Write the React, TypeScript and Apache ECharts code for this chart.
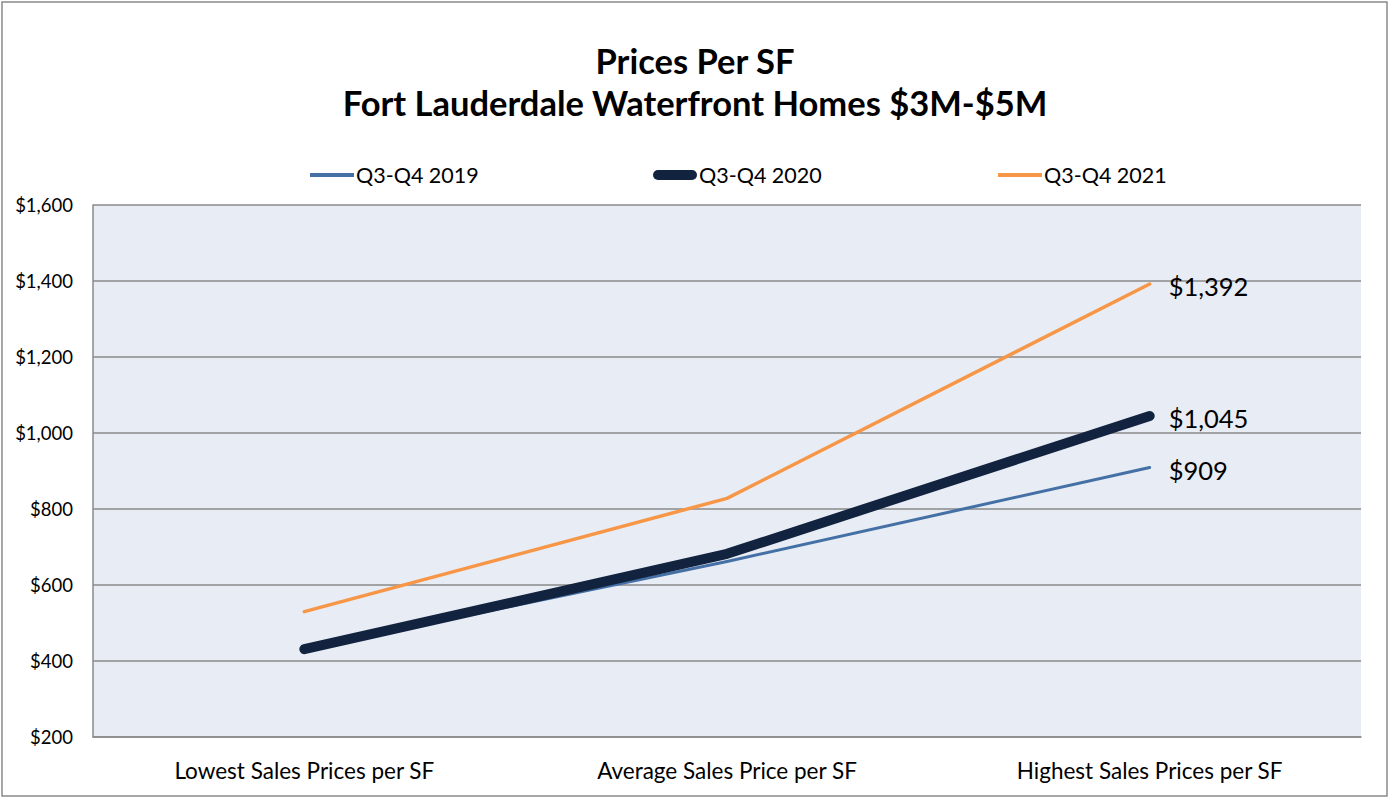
import React, { useEffect, useRef } from "react";
import * as echarts from "echarts";

const categories = ["Lowest Sales Prices per SF", "Average Sales Price per SF", "Highest Sales Prices per SF"];
const s2019 = [431, 662, 909];
const s2020 = [431, 682, 1045];
const s2021 = [530, 828, 1392];
const seriesNames = ["Q3-Q4 2019", "Q3-Q4 2020", "Q3-Q4 2021"];
const titleLines = ["Prices Per SF", "Fort Lauderdale Waterfront Homes $3M-$5M"];

const FONT = "Lato, 'Open Sans', sans-serif";

export default function App() {
  const ref = useRef<HTMLDivElement>(null);
  useEffect(() => {
    const chart = echarts.init(ref.current!, null, { renderer: "svg" });
    const fmt = (v: number) => "$" + v.toLocaleString("en-US");
    const colors = ["#4470A5", "#12233F", "#F79646"];
    const widths = [3, 10, 3.5];
    const mk = (i: number, data: number[], z: number) => ({
      name: seriesNames[i],
      type: "line",
      data,
      symbol: "none",
      z,
      lineStyle: { color: colors[i], width: widths[i], cap: "round", join: "round" },
      itemStyle: { color: colors[i] },
      endLabel: {
        show: true,
        distance: 19,
        fontFamily: FONT,
        fontSize: 25.5,
        color: "#000",
        offset: [0, 2],
        formatter: (p: any) => fmt(p.value),
      },
    });
    const legendLefts = [305, 648, 993];
    const iconH = [4, 10, 4];
    const icons = [
      "rect",
      "path://M5,0H39A5,5 0 0 1 39,10H5A5,5 0 0 1 5,0Z",
      "rect",
    ];
    const legends = seriesNames.map((n, i) => ({
      top: 159,
      left: legendLefts[i],
      itemWidth: 44,
      itemHeight: iconH[i],
      height: 26,
      data: [{ name: n, icon: icons[i], itemStyle: { color: colors[i] } }],
      textStyle: { fontFamily: FONT, fontSize: 21.5, color: "#000", padding: [0, 0, 0, -3] },
    }));
    chart.setOption({
      animation: false,
      title: {
        text: titleLines.join("\n"),
        left: "center",
        top: 34,
        textStyle: { fontFamily: FONT, fontSize: 34.5, fontWeight: "bold", color: "#000", lineHeight: 42 },
      },
      legend: legends,
      graphic: [
        {
          type: "rect",
          shape: { x: 2, y: 2, width: 1385, height: 794 },
          style: { fill: "none", stroke: "#8a8a8a", lineWidth: 1.5 },
          silent: true,
        },
      ],
      grid: { left: 93, right: 29, top: 205, bottom: 62, backgroundColor: "#E8ECF4", show: true, borderWidth: 0 },
      xAxis: {
        type: "category",
        data: categories,
        boundaryGap: true,
        axisLine: { lineStyle: { color: "#8a8a8a", width: 1.5 } },
        axisTick: { show: false },
        axisLabel: { fontFamily: FONT, fontSize: 22.5, color: "#000", margin: 22 },
      },
      yAxis: {
        type: "value",
        min: 200,
        max: 1600,
        interval: 200,
        axisLine: { show: true, lineStyle: { color: "#8a8a8a", width: 1.5 } },
        axisTick: { show: false },
        splitLine: { lineStyle: { color: "#8a8a8a", width: 1.5 } },
        axisLabel: { fontFamily: FONT, fontSize: 18.5, color: "#000", margin: 20, formatter: fmt },
      },
      series: [mk(0, s2019, 2), mk(1, s2020, 3), mk(2, s2021, 4)],
    });
    return () => chart.dispose();
  }, []);
  return (
    <div
      ref={ref}
      style={{ position: "absolute", left: 0, top: 0, width: 1390, height: 799, background: "#fff" }}
    />
  );
}
